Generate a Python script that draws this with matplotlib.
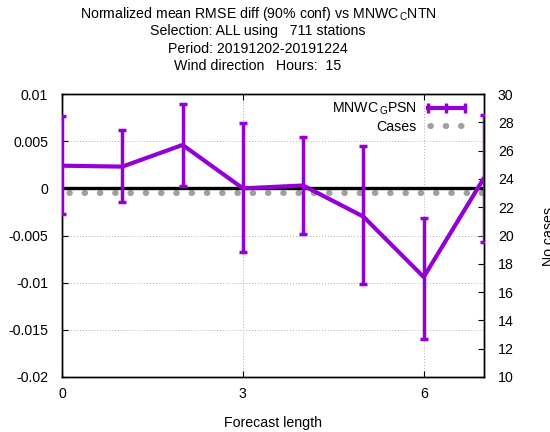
import matplotlib
matplotlib.use("Agg")
import matplotlib.pyplot as plt
from matplotlib.lines import Line2D

plt.rcParams['font.family'] = ['Liberation Sans', 'DejaVu Sans']
plt.rcParams['mathtext.fontset'] = 'custom'
plt.rcParams['mathtext.rm'] = 'Liberation Sans'
plt.rcParams['mathtext.it'] = 'Liberation Sans'

# ---- data ----
forecast_length = [0, 1, 2, 3, 4, 5, 6, 7]
mean_diff = [0.0024, 0.0023, 0.0046, 0.0000, 0.0003, -0.0030, -0.0094, 0.0011]
ci_low = [-0.0027, -0.0015, 0.0003, -0.0068, -0.0048, -0.0101, -0.0160, -0.0057]
ci_high = [0.0077, 0.0062, 0.0089, 0.0069, 0.0054, 0.0045, -0.0031, 0.0078]
cases = [23, 23, 23, 23, 23, 23, 23, 23]

x_ticks = [0, 3, 6]
y_ticks = [-0.02, -0.015, -0.01, -0.005, 0, 0.005, 0.01]
y_ticklabels = ['-0.02', '-0.015', '-0.01', '-0.005', '0', '0.005', '0.01']
y2_ticks = [10, 12, 14, 16, 18, 20, 22, 24, 26, 28, 30]

title_lines = [
    "Normalized mean RMSE diff (90% conf) vs MNWC$_{\\,\\mathrm{C}}$NTN",
    "Selection: ALL using   711 stations",
    "Period: 20191202-20191224",
    "Wind direction   Hours:  15",
]
series_label = "MNWC$_{\\,\\mathrm{G}}$PSN"
cases_label = "Cases"

purple = '#9400D3'
grey = '#a0a0a0'
FS = 10.2

fig = plt.figure(figsize=(5.5, 4.32), dpi=100)
ax = fig.add_axes([62/550, 1-377/432, (484-62)/550, (377-94)/432])
ax2 = ax.twinx()

DOT_LW = 4.4
dot_style = (1.3, (0.08, 2.42))

# cases (right axis)
ax2.plot(forecast_length, cases, color=grey, lw=DOT_LW,
         linestyle=dot_style, dash_capstyle='round')
ax2.set_ylim(10, 30)
ax2.set_yticks(y2_ticks)
ax2.tick_params(axis='y', direction='in', length=4, pad=10, labelsize=FS, width=0.8)

ax.set_zorder(ax2.get_zorder() + 1)
ax.patch.set_visible(False)

ax.axhline(0, color='black', lw=2.4, zorder=2)
yerr = [[m - l for m, l in zip(mean_diff, ci_low)],
        [h - m for m, h in zip(mean_diff, ci_high)]]
eb = ax.errorbar(forecast_length, mean_diff, yerr=yerr, color=purple, lw=3,
                 elinewidth=2.5, capsize=3, capthick=2.5, zorder=3)

ax.set_xlim(0, 7)
ax.set_ylim(-0.02, 0.01)
ax.set_xticks(x_ticks)
ax.set_yticks(y_ticks)
ax.set_yticklabels(y_ticklabels)
ax.tick_params(axis='x', direction='in', length=4, pad=7, labelsize=FS, top=True, width=0.8)
ax.tick_params(axis='y', direction='in', length=4, pad=10, labelsize=FS, width=0.8)
ax.grid(True, color='#b0b0b0', linestyle=(0, (1, 2)), lw=0.7)
for s in list(ax.spines.values()) + list(ax2.spines.values()):
    s.set_linewidth(1.0)

ax.set_xlabel("Forecast length", fontsize=FS, labelpad=11)
fig.text(549/550, 1-236/432, "No cases", rotation=90, ha='center', va='center', fontsize=FS)

for i, line in enumerate(title_lines):
    fig.text(258/550, 1-(14 + 17.5*i)/432, line, ha='center', va='center', fontsize=FS)

h_series = Line2D([], [], color=purple, lw=3, marker='|', markersize=7, markeredgewidth=2.5)
h_cases = Line2D([], [], color=grey, lw=DOT_LW, linestyle=(2.1, (0.08, 2.42)), dash_capstyle='round')
leg = ax.legend([h_series, h_cases], [series_label, cases_label], loc='upper right',
                frameon=False, markerfirst=False, fontsize=FS, handlelength=3.2,
                numpoints=3, handletextpad=0.5, labelspacing=0.2, borderaxespad=0.1,
                bbox_to_anchor=(1 - 8/422, 1))

fig.savefig("out.png", dpi=100)
